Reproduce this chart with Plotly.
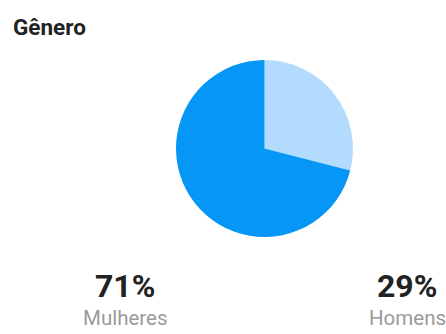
import plotly.graph_objects as go

categories = ["Homens", "Mulheres"]
values = [29, 71]
colors = ["#b3dbfd", "#0696f5"]

W, H = 446, 334
cx, cy, r = 264.5, 148.5, 88.5

fig = go.Figure(go.Pie(
    labels=categories,
    values=values,
    sort=False,
    direction="clockwise",
    rotation=0,
    marker=dict(colors=colors, line=dict(width=0)),
    textinfo="none",
    hoverinfo="none",
    showlegend=False,
    domain=dict(x=[(cx - r) / W, (cx + r) / W], y=[(H - cy - r) / H, (H - cy + r) / H]),
))

font_family = "Roboto"
annotations = [
    dict(text="<b>Gênero</b>", x=11, y=H - 27, showarrow=False,
         xanchor="left", yanchor="middle", font=dict(family=font_family, size=22.5, color="#222222")),
]
positions = {"Mulheres": 125, "Homens": 407}
for cat, val in zip(categories, values):
    x = positions[cat]
    annotations.append(dict(text=f"<b>{val}%</b>", x=x, y=H - 286, showarrow=False,
                            xanchor="center", yanchor="middle",
                            font=dict(family=font_family, size=32, color="#222222")))
    annotations.append(dict(text=cat, x=x, y=H - 318, showarrow=False,
                            xanchor="center", yanchor="middle",
                            font=dict(family=font_family, size=20.5, color="#9a9a9a")))

for a in annotations:
    a["xref"] = "x"
    a["yref"] = "y"

fig.update_layout(
    width=W, height=H,
    margin=dict(l=0, r=0, t=0, b=0),
    paper_bgcolor="white", plot_bgcolor="white",
    xaxis=dict(range=[0, W], visible=False, fixedrange=True),
    yaxis=dict(range=[0, H], visible=False, fixedrange=True),
    annotations=annotations,
)
fig.write_html("out.html", config={"displayModeBar": False})
